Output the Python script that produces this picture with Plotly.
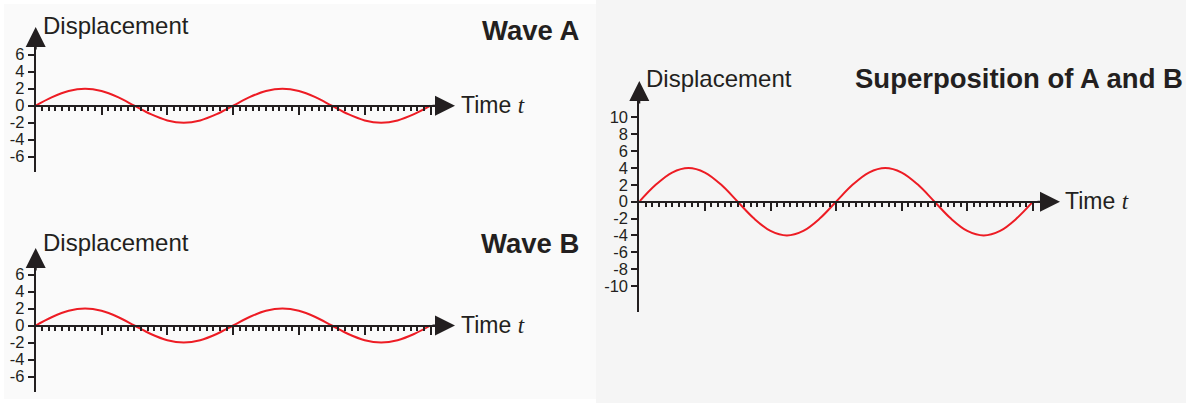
import plotly.graph_objects as go

W, H = 1186, 403

# data (time in major-tick units, one period = 3 units)
time = [0, 0.25, 0.5, 0.75, 1.0, 1.25, 1.5, 1.75, 2.0, 2.25, 2.5, 2.75, 3.0,
        3.25, 3.5, 3.75, 4.0, 4.25, 4.5, 4.75, 5.0, 5.25, 5.5, 5.75, 6.0]
wave_a = [0, 1.0, 1.73, 2.0, 1.73, 1.0, 0, -1.0, -1.73, -2.0, -1.73, -1.0, 0,
          1.0, 1.73, 2.0, 1.73, 1.0, 0, -1.0, -1.73, -2.0, -1.73, -1.0, 0]
wave_b = [0, 1.0, 1.73, 2.0, 1.73, 1.0, 0, -1.0, -1.73, -2.0, -1.73, -1.0, 0,
          1.0, 1.73, 2.0, 1.73, 1.0, 0, -1.0, -1.73, -2.0, -1.73, -1.0, 0]
superposition = [0, 2.0, 3.46, 4.0, 3.46, 2.0, 0, -2.0, -3.46, -4.0, -3.46, -2.0, 0,
                 2.0, 3.46, 4.0, 3.46, 2.0, 0, -2.0, -3.46, -4.0, -3.46, -2.0, 0]

ticks_small = [-6, -4, -2, 0, 2, 4, 6]
ticks_big = [-10, -8, -6, -4, -2, 0, 2, 4, 6, 8, 10]
major_x = [1, 2, 3, 4, 5, 6]

INK = "#231f20"
RED = "#ed1c24"
FONT = "Liberation Sans, Arial, sans-serif"


def px(v):
    return v / W


def py(v):
    return 1 - v / H


fig = go.Figure()
annotations = []


def add_panel(n, ys, yticks, ox, oy, tip_x, top_y, bottom_y, sx, sy, title, title_x, title_y, disp_y, time_x):
    sfx = "" if n == 1 else str(n)
    line_end = tip_x - 9
    axis_top = top_y + 9
    fig.add_trace(go.Scatter(x=time, y=ys, mode="lines", line=dict(color=RED, width=2, shape="spline"),
                             xaxis="x" + sfx, yaxis="y" + sfx, showlegend=False, hoverinfo="skip"))
    fig.layout["xaxis" + sfx] = dict(
        domain=[px(ox), px(line_end)], range=[0, (line_end - ox) / sx],
        anchor="free", position=py(oy), showline=True, linecolor=INK, linewidth=2,
        showgrid=False, zeroline=False, showticklabels=False,
        ticks="outside", tickvals=major_x, ticklen=8, tickwidth=2, tickcolor=INK,
        minor=dict(tickmode="array", tickvals=[i / 10 for i in range(1, 60) if i % 10],
                   ticks="outside", ticklen=4, tickwidth=1.6, tickcolor=INK, showgrid=False),
        fixedrange=True,
    )
    fig.layout["yaxis" + sfx] = dict(
        domain=[py(bottom_y), py(axis_top)],
        range=[-(bottom_y - oy) / sy, (oy - axis_top) / sy],
        anchor="x" + sfx, showline=True, linecolor=INK, linewidth=2,
        showgrid=False, zeroline=False,
        ticks="outside", ticklen=6, tickwidth=1.6, tickcolor=INK,
        tickvals=yticks, ticktext=[str(v) for v in yticks],
        tickfont=dict(family=FONT, size=16.5, color=INK), fixedrange=True,
    )
    # arrow heads
    annotations.append(dict(xref="paper", yref="paper", x=px(tip_x), y=py(oy), ax=-24, ay=0,
                            text="", showarrow=True, arrowhead=2, arrowsize=2.0, arrowwidth=2,
                            arrowcolor=INK))
    annotations.append(dict(xref="paper", yref="paper", x=px(ox), y=py(top_y), ax=0, ay=24,
                            text="", showarrow=True, arrowhead=2, arrowsize=2.0, arrowwidth=2,
                            arrowcolor=INK))
    annotations.append(dict(xref="paper", yref="paper", x=px(ox + 5), y=py(disp_y), xanchor="left",
                            yanchor="middle", text="Displacement", showarrow=False,
                            font=dict(family=FONT, size=24, color=INK)))
    annotations.append(dict(xref="paper", yref="paper", x=px(time_x), y=py(oy - 1), xanchor="left",
                            yanchor="middle", showarrow=False,
                            text="Time <span style='font-family:Liberation Serif'><i>t</i></span>",
                            font=dict(family=FONT, size=23, color=INK)))
    annotations.append(dict(xref="paper", yref="paper", x=px(title_x), y=py(title_y), xanchor="right",
                            yanchor="middle", showarrow=False, text="<b>" + title + "</b>",
                            font=dict(family=FONT, size=27.5, color=INK)))


add_panel(1, wave_a, ticks_small, 35.7, 105.7, 455, 27, 172, 65.8, 8.5,
          "Wave A", 581, 30, 25, 459)
add_panel(2, wave_b, ticks_small, 35.7, 325.5, 455, 248, 392, 65.8, 8.5,
          "Wave B", 581, 243, 242, 459)
add_panel(3, superposition, ticks_big, 639.3, 201.7, 1060, 81, 312, 65.6, 8.43,
          "Superposition of A and B", 1185, 79, 79, 1063)

shapes = [
    dict(type="rect", xref="paper", yref="paper", x0=px(4), x1=px(596), y0=py(399), y1=py(4),
         fillcolor="#fafafa", line_width=0, layer="below"),
    dict(type="rect", xref="paper", yref="paper", x0=px(596), x1=1, y0=0, y1=1,
         fillcolor="#f5f5f5", line_width=0, layer="below"),
]

fig.update_layout(
    width=W, height=H, autosize=False,
    margin=dict(l=0, r=0, t=0, b=0),
    paper_bgcolor="white", plot_bgcolor="rgba(0,0,0,0)",
    showlegend=False, annotations=annotations, shapes=shapes,
    font=dict(family=FONT, color=INK),
)

fig.write_html("out.html", config={"displayModeBar": False},
               post_script="document.body.style.margin='0px';document.body.style.overflow='hidden';")
